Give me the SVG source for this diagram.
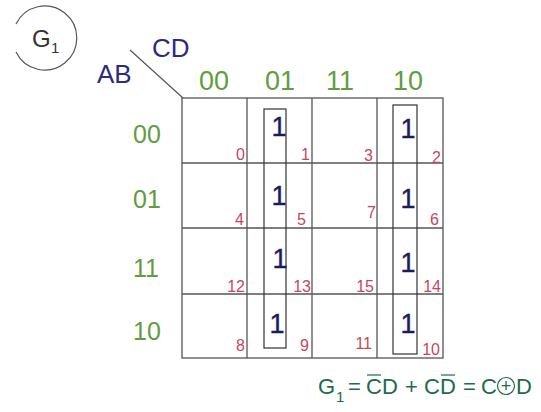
<svg xmlns="http://www.w3.org/2000/svg" width="541" height="412" viewBox="0 0 541 412">
<style>
text{font-family:"Liberation Sans",Arial,sans-serif}
.grid{stroke:#555;stroke-width:1.3;fill:none}
.grp{stroke:#333;stroke-width:1.2;fill:none}
.lbl{fill:#5e9e40;font-size:25px}
.col{font-size:27px;text-anchor:middle}
.one{fill:#1c1c5c;font-size:27px;text-anchor:middle;stroke:#1c1c5c;stroke-width:0.4}
.num{fill:#c8465a;font-size:16px;text-anchor:end}
.var{fill:#2b2b80;font-size:26px}
.f{fill:#1d6b4a;font-size:22px}
.bar{stroke:#1d6b4a;stroke-width:1.2}
</style>
<rect width="541" height="412" fill="#fff"/>
<g id="g1-tag">
<path d="M16,24 A32,32 0 1 1 16,52" fill="none" stroke="#555" stroke-width="1.2"/>
<text x="32" y="47" fill="#333" font-size="24">G</text>
<text x="51" y="53" fill="#333" font-size="15">1</text>
</g>
<g id="axis-labels">
<line x1="130" y1="50" x2="183" y2="98" stroke="#555" stroke-width="1.2"/>
<text class="var" x="152" y="57">CD</text>
<text class="var" x="97" y="83">AB</text>
<text class="lbl col" x="214" y="90">00</text>
<text class="lbl col" x="280" y="90">01</text>
<text class="lbl col" x="340" y="90">11</text>
<text class="lbl col" x="408" y="90">10</text>
<text class="lbl" x="133" y="143">00</text>
<text class="lbl" x="133" y="208">01</text>
<text class="lbl" x="133" y="277">11</text>
<text class="lbl" x="133" y="340">10</text>
</g>
<g id="kmap-grid">
<rect class="grid" x="182" y="98" width="261" height="260"/>
<line class="grid" x1="247" y1="98" x2="247" y2="358"/>
<line class="grid" x1="312" y1="98" x2="312" y2="358"/>
<line class="grid" x1="377" y1="98" x2="377" y2="358"/>
<line class="grid" x1="182" y1="163" x2="443" y2="163"/>
<line class="grid" x1="182" y1="228" x2="443" y2="228"/>
<line class="grid" x1="182" y1="294" x2="443" y2="294"/>
</g>
<g id="group-col01"><rect class="grp" x="264" y="109" width="22" height="239"/></g>
<g id="group-col10"><rect class="grp" x="393" y="105" width="24" height="249"/></g>
<g id="ones">
<text class="one" x="279" y="136">1</text>
<text class="one" x="279" y="205">1</text>
<text class="one" x="280" y="268">1</text>
<text class="one" x="277" y="333">1</text>
<text class="one" x="408" y="138">1</text>
<text class="one" x="408" y="208">1</text>
<text class="one" x="408" y="272">1</text>
<text class="one" x="408" y="333">1</text>
</g>
<g id="cell-numbers">
<text class="num" x="245" y="160">0</text>
<text class="num" x="310" y="160">1</text>
<text class="num" x="373" y="161">3</text>
<text class="num" x="441" y="163">2</text>
<text class="num" x="244" y="225">4</text>
<text class="num" x="306" y="225">5</text>
<text class="num" x="376" y="218">7</text>
<text class="num" x="439" y="225">6</text>
<text class="num" x="245" y="292">12</text>
<text class="num" x="311" y="292">13</text>
<text class="num" x="374" y="292">15</text>
<text class="num" x="441" y="292">14</text>
<text class="num" x="245" y="351">8</text>
<text class="num" x="309" y="351">9</text>
<text class="num" x="372" y="349">11</text>
<text class="num" x="440" y="355">10</text>
</g>
<g id="formula">
<text class="f" x="318" y="394">G</text>
<text class="f" x="336" y="402" style="font-size:15px">1</text>
<text class="f" x="348" y="394">=</text>
<text class="f" x="366" y="394">CD</text>
<line class="bar" x1="367" y1="375" x2="381" y2="375"/>
<text class="f" x="405" y="394">+</text>
<text class="f" x="424" y="394">CD</text>
<line class="bar" x1="441" y1="375" x2="455" y2="375"/>
<text class="f" x="463" y="394">=</text>
<text class="f" x="481" y="394">C</text>
<circle cx="506" cy="386" r="8.5" fill="none" stroke="#1d6b4a" stroke-width="1.2"/>
<text class="f" x="506" y="392" text-anchor="middle" style="font-size:18px">+</text>
<text class="f" x="516" y="394">D</text>
</g>
</svg>
